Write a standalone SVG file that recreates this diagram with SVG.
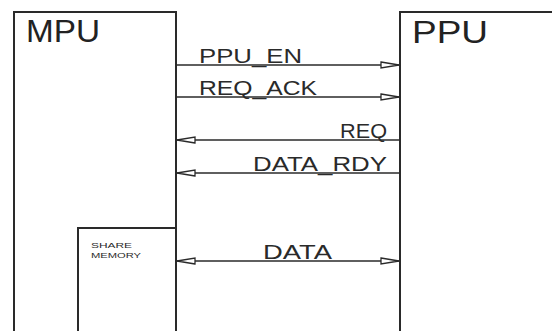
<svg xmlns="http://www.w3.org/2000/svg" width="552" height="331" viewBox="0 0 552 331">
<style>
.box{fill:none;stroke:#2a2a2a;stroke-width:2}
.big{font-family:"Liberation Sans",Arial,sans-serif;font-size:31px;fill:#222}
.lbl{font-family:"Liberation Sans",Arial,sans-serif;font-size:20px;fill:#2a2a2a}
.sm{font-family:"Liberation Sans",Arial,sans-serif;font-size:8px;fill:#2a2a2a}
.wire{stroke:#2a2a2a;stroke-width:1.3;fill:none}
</style>
<defs>
<marker id="ah" viewBox="0 0 20 8" refX="20" refY="4" markerWidth="20" markerHeight="8" markerUnits="userSpaceOnUse" orient="auto-start-reverse">
<path d="M1,1 L19,4 L1,7 Z" fill="#fff" stroke="#2a2a2a" stroke-width="1.3"/>
</marker>
</defs>
<rect width="552" height="331" fill="#fff"/>
<g id="mpu">
<path class="box" d="M14,331 V12 H176 V331"/>
<text class="big" x="26" y="42" textLength="74" lengthAdjust="spacingAndGlyphs">MPU</text>
</g>
<g id="ppu">
<path class="box" d="M400,331 V12 H552"/>
<text class="big" x="412" y="43" textLength="76" lengthAdjust="spacingAndGlyphs">PPU</text>
</g>
<g id="share-memory">
<path class="box" d="M78,331 V228 H176"/>
<text class="sm" x="91" y="248" textLength="41" lengthAdjust="spacingAndGlyphs">SHARE</text>
<text class="sm" x="91" y="258" textLength="50" lengthAdjust="spacingAndGlyphs">MEMORY</text>
</g>
<g id="connectors">
<line class="wire" x1="176" y1="65" x2="400" y2="65" marker-end="url(#ah)"/>
<line class="wire" x1="176" y1="97" x2="400" y2="97" marker-end="url(#ah)"/>
<line class="wire" x1="400" y1="140" x2="176" y2="140" marker-end="url(#ah)"/>
<line class="wire" x1="400" y1="173" x2="176" y2="173" marker-end="url(#ah)"/>
<line class="wire" x1="176" y1="261" x2="400" y2="261" stroke-width="2" marker-start="url(#ah)" marker-end="url(#ah)"/>
<text class="lbl" x="199" y="63" textLength="103" lengthAdjust="spacingAndGlyphs">PPU_EN</text>
<text class="lbl" x="199" y="95" textLength="118" lengthAdjust="spacingAndGlyphs">REQ_ACK</text>
<text class="lbl" x="340" y="138" textLength="47" lengthAdjust="spacingAndGlyphs">REQ</text>
<text class="lbl" x="253" y="171" textLength="134" lengthAdjust="spacingAndGlyphs">DATA_RDY</text>
<text class="lbl" x="263" y="259" textLength="69" lengthAdjust="spacingAndGlyphs">DATA</text>
</g>
</svg>
